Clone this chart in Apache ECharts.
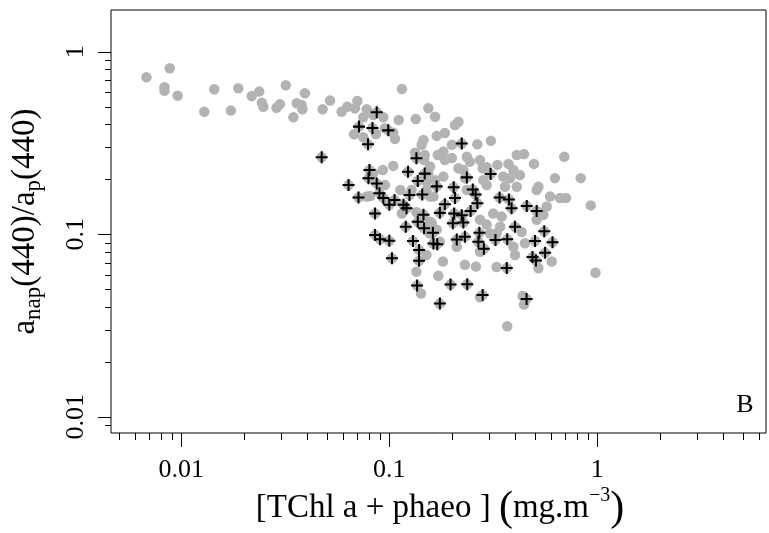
<!DOCTYPE html>
<html><head><meta charset="utf-8">
<script src="https://cdn.jsdelivr.net/npm/echarts@6/dist/echarts.min.js"></script>
<style>html,body{margin:0;padding:0;background:#fff}#c{width:769px;height:533px}</style>
</head><body><div id="c"></div>
<script>
// ---- data ----
const xTickValues = [0.01, 0.1, 1];
const xTickLabels = ['0.01', '0.1', '1'];
const yTickValues = [0.01, 0.1, 1];
const yTickLabels = ['0.01', '0.1', '1'];
const xMinorTicks = [0.005,0.006,0.007,0.008,0.009,0.02,0.03,0.04,0.05,0.06,0.07,0.08,0.09,0.2,0.3,0.4,0.5,0.6,0.7,0.8,0.9,2,3,4,5,6];
const yMinorTicks = [0.009,0.02,0.03,0.04,0.05,0.06,0.07,0.08,0.09,0.2,0.3,0.4,0.5,0.6,0.7,0.8,0.9];

// samples shown as grey dots only
const grayX = [0.0068,0.0088,0.0083,0.0083,0.0096,0.0129,0.0144,0.0173,0.0188,0.0218,0.0237,0.0244,0.0248,0.0287,0.0298,0.0318,0.0346,0.0359,0.0379,0.0382,0.0393,0.0478,0.0519,0.0590,0.0628,0.0684,0.0702,0.0779,0.0750,0.0838,0.0936,0.115,0.111,0.134,0.154,0.0677,0.0750,0.0863,0.0953,0.1045,0.1065,0.146,0.143,0.133,0.148,0.1045,0.0930,0.166,0.215,0.207,0.169,0.185,0.182,0.200,0.236,0.215,0.157,0.154,0.182,0.227,0.0838,0.0953,0.113,0.128,0.151,0.151,0.157,0.0779,0.147,0.185,0.200,0.171,0.166,0.265,0.308,0.694,0.410,0.444,0.496,0.244,0.273,0.281,0.331,0.374,0.395,0.425,0.381,0.626,0.832,0.283,0.360,0.521,0.511,0.593,0.662,0.707,0.930,0.353,0.294,0.369,0.444,0.438,0.273,0.142,0.172,0.135,0.181,0.231,0.261,0.328,0.521,0.604,0.980,0.550,0.316,0.347,0.273,0.294,0.341,0.328,0.433,0.449,0.511,0.540,0.571,0.402,0.273,0.211,0.151,0.157,0.175,0.160,0.135,0.0808,0.163,0.236,0.294,0.410,0.305,0.395,0.115,0.157,0.169,0.231];
const grayY = [0.725,0.812,0.639,0.612,0.575,0.469,0.623,0.476,0.631,0.573,0.605,0.526,0.500,0.494,0.516,0.655,0.438,0.522,0.511,0.484,0.592,0.484,0.540,0.469,0.500,0.490,0.537,0.484,0.438,0.450,0.438,0.625,0.423,0.428,0.490,0.353,0.340,0.354,0.381,0.360,0.333,0.329,0.309,0.280,0.272,0.237,0.225,0.441,0.414,0.397,0.346,0.359,0.284,0.309,0.266,0.230,0.235,0.216,0.207,0.225,0.216,0.186,0.175,0.175,0.194,0.175,0.161,0.161,0.255,0.255,0.262,0.272,0.198,0.311,0.325,0.266,0.272,0.275,0.243,0.250,0.255,0.230,0.240,0.243,0.225,0.211,0.203,0.203,0.203,0.198,0.182,0.182,0.175,0.161,0.158,0.158,0.144,0.207,0.233,0.0313,0.0412,0.0459,0.0452,0.0474,0.0593,0.0624,0.0710,0.0681,0.0665,0.0662,0.0651,0.0710,0.0616,0.128,0.130,0.125,0.120,0.113,0.110,0.101,0.103,0.0893,0.120,0.130,0.142,0.0770,0.0803,0.0855,0.0770,0.101,0.0911,0.115,0.132,0.162,0.161,0.175,0.186,0.182,0.101,0.0855,0.130,0.117,0.106,0.203];

// samples marked with a cross (drawn over a grey dot)
const crossX = [0.0870,0.0715,0.0830,0.0989,0.0790,0.0473,0.135,0.223,0.0803,0.0794,0.0870,0.123,0.148,0.137,0.169,0.204,0.236,0.0637,0.0711,0.0897,0.0936,0.106,0.125,0.144,0.207,0.100,0.117,0.185,0.307,0.252,0.260,0.265,0.339,0.376,0.458,0.511,0.387,0.246,0.121,0.0854,0.175,0.146,0.137,0.147,0.120,0.162,0.163,0.170,0.130,0.139,0.139,0.0854,0.0902,0.100,0.103,0.205,0.223,0.202,0.227,0.211,0.231,0.271,0.268,0.285,0.402,0.324,0.369,0.502,0.556,0.609,0.488,0.507,0.561,0.367,0.136,0.197,0.237,0.281,0.175,0.457];
const crossY = [0.466,0.389,0.382,0.371,0.311,0.264,0.261,0.314,0.225,0.203,0.190,0.220,0.215,0.196,0.183,0.181,0.205,0.186,0.159,0.168,0.158,0.154,0.164,0.165,0.158,0.145,0.145,0.146,0.214,0.176,0.165,0.148,0.159,0.155,0.143,0.134,0.139,0.134,0.139,0.130,0.131,0.128,0.117,0.108,0.110,0.102,0.0891,0.0882,0.0919,0.0820,0.0716,0.0991,0.0939,0.0921,0.0739,0.130,0.127,0.115,0.116,0.0937,0.0970,0.102,0.0911,0.0834,0.110,0.0931,0.0939,0.0919,0.104,0.0904,0.0751,0.0719,0.0793,0.0654,0.0524,0.0531,0.0532,0.0465,0.0417,0.0442];

const X_MIN = 0.004592, X_MAX = 6.473, Y_MIN = 0.008149, Y_MAX = 1.694;

// ---- chart ----
const FONT = 'Liberation Serif';
const chart = echarts.init(document.getElementById('c'), null, {renderer: 'canvas'});

function labelFmt(vals, labels) {
  return function (v) {
    const i = vals.findIndex(t => Math.abs(Math.log10(t) - Math.log10(v)) < 1e-6);
    return i >= 0 ? labels[i] : '';
  };
}
function tickSeries(data, isX) {
  return {
    type: 'custom', coordinateSystem: 'cartesian2d', silent: true, clip: false, z: 5,
    renderItem: function (params, api) {
      const p = api.coord([api.value(0), api.value(1)]);
      const len = api.value(2);
      if (isX) {
        const x = Math.round(p[0]) + 0.5;
        return {type: 'line', shape: {x1: x, y1: p[1], x2: x, y2: p[1] + len}, style: {stroke: '#000', lineWidth: 1}};
      }
      const y = Math.round(p[1]) + 0.5;
      return {type: 'line', shape: {x1: p[0], y1: y, x2: p[0] - len, y2: y}, style: {stroke: '#000', lineWidth: 1}};
    },
    data: data
  };
}

const allGray = grayX.map((x, i) => [x, grayY[i]]).concat(crossX.map((x, i) => [x, crossY[i]]));
const crosses = crossX.map((x, i) => [x, crossY[i]]);

const xTickData = xTickValues.map(v => [v, Y_MIN, 14]).concat(xMinorTicks.map(v => [v, Y_MIN, 7]));
const yTickData = yTickValues.map(v => [X_MIN, v, 13]).concat(yMinorTicks.map(v => [X_MIN, v, 6]));

chart.setOption({
  animation: false,
  backgroundColor: '#fff',
  grid: {left: 111, top: 10, right: 3, bottom: 100, show: true, borderColor: '#000', borderWidth: 1, backgroundColor: 'transparent', containLabel: false},
  xAxis: {
    type: 'log', logBase: 10, min: X_MIN, max: X_MAX,
    axisLine: {show: false}, axisTick: {show: false}, splitLine: {show: false}, minorTick: {show: false},
    axisLabel: {show: true, margin: 24, fontFamily: FONT, fontSize: 26, color: '#000', showMinLabel: false, showMaxLabel: false, formatter: labelFmt(xTickValues, xTickLabels)}
  },
  yAxis: {
    type: 'log', logBase: 10, min: Y_MIN, max: Y_MAX,
    axisLine: {show: false}, axisTick: {show: false}, splitLine: {show: false}, minorTick: {show: false},
    axisLabel: {show: true, rotate: 90, margin: 22, fontFamily: FONT, fontSize: 26, color: '#000', showMinLabel: false, showMaxLabel: false, formatter: labelFmt(yTickValues, yTickLabels)}
  },
  graphic: [
    {type: 'text', x: 440, y: 508.5, silent: true,
     style: {text: '{m|[TChl a + phaeo ] }{p|(}{m|mg.m}{s|\u22123}{p|)}', align: 'center', verticalAlign: 'middle', fill: '#000',
       rich: {
         m: {fontFamily: FONT, fontSize: 33, lineHeight: 46, fill: '#000'},
         p: {fontFamily: FONT, fontSize: 42, lineHeight: 46, fill: '#000'},
         s: {fontFamily: FONT, fontSize: 20, lineHeight: 21, verticalAlign: 'top', fill: '#000'}
       }}},
    {type: 'text', x: 27, y: 221.5, rotation: Math.PI / 2, silent: true,
     style: {text: '{m|a}{s|nap}{m|(440)/a}{s|p}{m|(440)}', align: 'center', verticalAlign: 'middle', fill: '#000',
       rich: {
         m: {fontFamily: FONT, fontSize: 33, lineHeight: 36, verticalAlign: 'top', fill: '#000'},
         s: {fontFamily: FONT, fontSize: 23, lineHeight: 22, verticalAlign: 'bottom', fill: '#000'}
       }}},
    {type: 'text', x: 745, y: 405, silent: true,
     style: {text: 'B', fontFamily: FONT, fontSize: 26, align: 'center', verticalAlign: 'middle', fill: '#000'}}
  ],
  series: [
    {type: 'scatter', data: allGray, symbol: 'circle', symbolSize: 10.5, itemStyle: {color: '#b3b3b3', opacity: 1}, silent: true, z: 2},
    {type: 'scatter', data: crosses, symbol: 'path://M4.15,0H5.85V4.15H10V5.85H5.85V10H4.15V5.85H0V4.15H4.15Z', symbolSize: 12, itemStyle: {color: '#000', opacity: 1}, silent: true, z: 3},
    tickSeries(xTickData, true),
    tickSeries(yTickData, false)
  ]
});
</script>
</body></html>
